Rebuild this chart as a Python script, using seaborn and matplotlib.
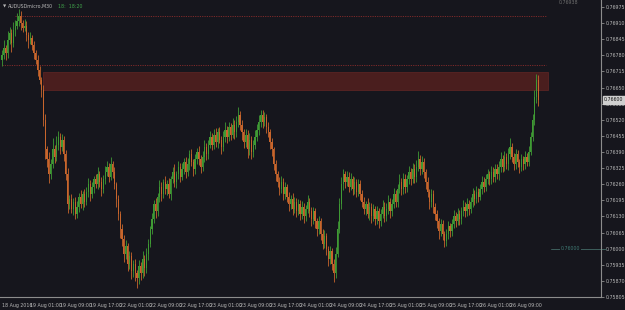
import numpy as np
import pandas as pd
import matplotlib
matplotlib.use("Agg")
import matplotlib.pyplot as plt
import matplotlib.transforms as mtransforms
from matplotlib.patches import Rectangle
import seaborn as sns

# ---------------- data ----------------
close = [
    0.7678, 0.7681, 0.7679, 0.7684, 0.7687, 0.7683, 0.7688, 0.7690,
    0.7692, 0.7694, 0.7691, 0.7689, 0.7690, 0.7686, 0.7684, 0.7685,
    0.7682, 0.7679, 0.7676, 0.7672, 0.7668, 0.7664, 0.7652, 0.7640,
    0.7636, 0.7630, 0.7634, 0.7640, 0.7637, 0.7642, 0.7645, 0.7641,
    0.7644, 0.7638, 0.7630, 0.7618, 0.7620, 0.7616, 0.7619, 0.7614,
    0.7617, 0.7621, 0.7618, 0.7622, 0.7619, 0.7623, 0.7626, 0.7622,
    0.7625, 0.7628, 0.7626, 0.7630, 0.7627, 0.7624, 0.7628, 0.7631,
    0.7633, 0.7629, 0.7634, 0.7631, 0.7626, 0.7620, 0.7614, 0.7608,
    0.7604, 0.7598, 0.7601, 0.7594, 0.7597, 0.7591, 0.7594, 0.7590,
    0.7588, 0.7593, 0.7590, 0.7596, 0.7592, 0.7598, 0.7602, 0.7608,
    0.7612, 0.7618, 0.7615, 0.7621, 0.7625, 0.7622, 0.7627, 0.7624,
    0.7626, 0.7622, 0.7628, 0.7631, 0.7627, 0.7630, 0.7633, 0.7629,
    0.7632, 0.7635, 0.7631, 0.7634, 0.7638, 0.7635, 0.7632, 0.7636,
    0.7639, 0.7636, 0.7633, 0.7637, 0.7641, 0.7638, 0.7642, 0.7645,
    0.7642, 0.7646, 0.7643, 0.7647, 0.7644, 0.7641, 0.7645, 0.7648,
    0.7645, 0.7649, 0.7646, 0.7650, 0.7647, 0.7651, 0.7654, 0.7650,
    0.7647, 0.7643, 0.7646, 0.7640, 0.7644, 0.7639, 0.7642, 0.7645,
    0.7648, 0.7651, 0.7654, 0.7651, 0.7653, 0.7649, 0.7647, 0.7643,
    0.7640, 0.7634, 0.7630, 0.7627, 0.7624, 0.7627, 0.7622, 0.7625,
    0.7621, 0.7618, 0.7620, 0.7616, 0.7619, 0.7615, 0.7618, 0.7614,
    0.7617, 0.7613, 0.7616, 0.7619, 0.7615, 0.7612, 0.7615, 0.7611,
    0.7608, 0.7611, 0.7606, 0.7602, 0.7605, 0.7600, 0.7596, 0.7599,
    0.7594, 0.7590, 0.7598, 0.7608, 0.7618, 0.7626, 0.7630, 0.7627,
    0.7629, 0.7625, 0.7628, 0.7624, 0.7627, 0.7623, 0.7626, 0.7622,
    0.7619, 0.7616, 0.7618, 0.7614, 0.7617, 0.7613, 0.7616, 0.7612,
    0.7615, 0.7611, 0.7614, 0.7617, 0.7613, 0.7616, 0.7619, 0.7615,
    0.7618, 0.7622, 0.7619, 0.7624, 0.7627, 0.7624, 0.7628, 0.7625,
    0.7628, 0.7631, 0.7628, 0.7632, 0.7629, 0.7633, 0.7636, 0.7632,
    0.7635, 0.7631, 0.7627, 0.7623, 0.7619, 0.7622, 0.7617, 0.7614,
    0.7611, 0.7607, 0.7610, 0.7606, 0.7603, 0.7606, 0.7609, 0.7607,
    0.7610, 0.7613, 0.7611, 0.7614, 0.7612, 0.7615, 0.7617, 0.7615,
    0.7618, 0.7616, 0.7619, 0.7622, 0.7620, 0.7623, 0.7621, 0.7624,
    0.7627, 0.7625, 0.7628, 0.7630, 0.7628, 0.7631, 0.7629, 0.7632,
    0.7630, 0.7633, 0.7636, 0.7633, 0.7637, 0.7634, 0.7638, 0.7641,
    0.7637, 0.7634, 0.7638, 0.7635, 0.7633, 0.7636, 0.7634, 0.7637,
    0.7635, 0.7639, 0.7645, 0.7652, 0.7661, 0.7668, 0.7660,
]
first_open = 0.7676

# wick lengths, in units of WICK_UNIT
up_wick = [
    8, 12, 5, 15, 10, 6, 14, 9,
    12, 10, 7, 5, 11, 8, 6, 9,
    5, 7, 4, 9, 6, 5, 8, 10,
    6, 12, 9, 18, 7, 14, 10, 6,
    9, 5, 7, 10, 6, 8, 5, 7,
    9, 6, 11, 5, 8, 7, 10, 6,
    8, 5, 9, 12, 6, 8, 7, 10,
    9, 6, 12, 5, 7, 4, 6, 5,
    8, 6, 10, 5, 9, 7, 6, 8,
    5, 10, 7, 12, 6, 9, 8, 5,
    10, 7, 9, 6, 11, 8, 5, 9,
    7, 10, 6, 8, 12, 5, 9, 7,
    10, 6, 8, 11, 7, 9, 5, 8,
    6, 10, 7, 9, 12, 6, 8, 10,
    7, 9, 11, 6, 8, 5, 10, 12,
    6, 9, 7, 11, 8, 10, 13, 6,
    8, 5, 9, 7, 10, 6, 8, 11,
    9, 12, 8, 7, 9, 6, 8, 5,
    6, 4, 7, 5, 8, 9, 6, 7,
    5, 8, 6, 9, 7, 5, 8, 6,
    9, 5, 7, 10, 6, 8, 7, 5,
    6, 9, 5, 7, 10, 6, 4, 8,
    5, 7, 10, 12, 9, 11, 8, 6,
    9, 7, 10, 6, 8, 5, 9, 7,
    6, 8, 5, 9, 7, 6, 8, 5,
    9, 6, 8, 10, 7, 9, 11, 6,
    8, 10, 7, 9, 12, 6, 10, 8,
    7, 9, 6, 10, 8, 11, 14, 7,
    9, 6, 5, 7, 4, 8, 6, 5,
    7, 5, 8, 6, 4, 7, 9, 6,
    8, 10, 7, 9, 6, 8, 10, 7,
    9, 6, 8, 10, 7, 9, 6, 8,
    10, 7, 9, 8, 6, 10, 7, 9,
    8, 10, 12, 7, 9, 6, 10, 14,
    7, 6, 9, 7, 5, 8, 6, 9,
    7, 9, 8, 10, 12, 10, 8,
]
dn_wick = [
    10, 6, 12, 8, 5, 14, 7, 9,
    6, 8, 11, 7, 5, 9, 12, 6,
    8, 10, 6, 9, 7, 12, 10, 15,
    12, 14, 8, 6, 10, 7, 9, 12,
    7, 10, 9, 14, 8, 6, 10, 8,
    6, 9, 7, 10, 8, 6, 9, 11,
    7, 10, 6, 8, 9, 11, 6, 8,
    7, 9, 6, 10, 8, 12, 10, 14,
    11, 14, 8, 12, 9, 13, 10, 12,
    15, 9, 11, 8, 12, 7, 10, 6,
    8, 6, 10, 7, 9, 11, 6, 8,
    10, 7, 9, 6, 8, 10, 7, 9,
    6, 8, 10, 7, 9, 6, 11, 8,
    7, 9, 10, 6, 8, 9, 7, 6,
    9, 7, 8, 10, 6, 11, 7, 8,
    10, 7, 9, 6, 11, 8, 7, 9,
    12, 10, 8, 14, 9, 11, 8, 7,
    6, 8, 7, 9, 6, 10, 8, 12,
    10, 9, 11, 8, 10, 7, 9, 8,
    9, 11, 8, 10, 7, 9, 6, 10,
    8, 10, 7, 6, 9, 11, 8, 10,
    12, 8, 10, 9, 7, 11, 12, 9,
    10, 14, 8, 6, 7, 8, 9, 10,
    7, 9, 6, 10, 8, 9, 7, 10,
    9, 8, 10, 7, 9, 11, 8, 10,
    9, 10, 8, 6, 9, 7, 8, 10,
    7, 6, 9, 8, 7, 9, 8, 10,
    8, 7, 9, 6, 10, 8, 7, 9,
    8, 10, 11, 9, 12, 8, 10, 9,
    11, 12, 8, 10, 9, 7, 8, 9,
    8, 7, 9, 6, 10, 8, 7, 9,
    7, 9, 6, 8, 10, 7, 9, 6,
    8, 9, 7, 8, 9, 7, 9, 8,
    7, 9, 8, 9, 7, 8, 9, 7,
    8, 9, 7, 9, 10, 7, 9, 8,
    7, 6, 5, 6, 8, 9, 10,
]
WICK_UNIT = 0.000025

xtick_bars = [-1, 14, 30, 46, 62, 78, 94, 110, 126, 142, 158, 174, 190,
              206, 222, 238, 254, 270]
xtick_labels = ["18 Aug 2016", "19 Aug 01:00", "19 Aug 09:00", "19 Aug 17:00",
                "22 Aug 01:00", "22 Aug 09:00", "22 Aug 17:00", "23 Aug 01:00",
                "23 Aug 09:00", "23 Aug 17:00", "24 Aug 01:00", "24 Aug 09:00",
                "24 Aug 17:00", "25 Aug 01:00", "25 Aug 09:00", "25 Aug 17:00",
                "26 Aug 01:00", "26 Aug 09:00"]
ytick_vals = [0.76975, 0.76910, 0.76845, 0.76780, 0.76715, 0.76650, 0.76585,
              0.76520, 0.76455, 0.76390, 0.76325, 0.76260, 0.76195, 0.76130,
              0.76065, 0.76000, 0.75935, 0.75870, 0.75805]

zone_top, zone_bottom = 0.76714, 0.76641
zone_start_bar, zone_end_bar = 22, 291
level_high, level_high_start = 0.76938, 7
level_mid, level_mid_start = 0.76742, 0
level_end = 290
support_level, support_start = 0.76000, 293
bid_price = 0.76600
symbol_title = "AUDUSDmicro,M30"
timer_text = "18:  18:20"

# ---------------- styling ----------------
BG = "#16161d"
GREEN = "#3f9a34"
ORANGE = "#c8652c"
TXT = "#b8b8b8"
AXC = "#8c8c8c"
FS = 3.4

sns.set_theme(style="dark", rc={
    "axes.facecolor": BG, "figure.facecolor": BG,
    "axes.edgecolor": AXC, "grid.color": BG,
    "xtick.color": AXC, "ytick.color": AXC,
    "text.color": TXT, "patch.force_edgecolor": False,
})
plt.rcParams["font.family"] = ["DejaVu Sans"]

df = pd.DataFrame({"close": close})
df["bar"] = np.arange(len(df))
df["open"] = [first_open] + close[:-1]
df["high"] = df[["open", "close"]].max(axis=1) + np.array(up_wick) * WICK_UNIT
df["low"] = df[["open", "close"]].min(axis=1) - np.array(dn_wick) * WICK_UNIT
df["dir"] = np.where(df["close"] >= df["open"], "up", "down")

fig = plt.figure(figsize=(6.25, 3.10), dpi=100)
ax = fig.add_axes([0, 13 / 310, 601 / 625, 297 / 310])
ax.set_facecolor(BG)

# zone rectangle
ax.add_patch(Rectangle((zone_start_bar, zone_bottom), zone_end_bar - zone_start_bar,
                       zone_top - zone_bottom, facecolor="#4a1e1e",
                       edgecolor="#5a2424", lw=0.6, zorder=1))
# dotted levels
ax.hlines(level_high, level_high_start, level_end, colors="#7e2a2a",
          linestyles=(0, (1.2, 1.2)), lw=0.7, zorder=1)
ax.hlines(level_mid, level_mid_start, level_end, colors="#7e2a2a",
          linestyles=(0, (1.2, 1.2)), lw=0.7, zorder=1)

# candles
palette = {"up": GREEN, "down": ORANGE}
for d, sub in df.groupby("dir"):
    ax.vlines(sub["bar"], sub["low"], sub["high"], colors=palette[d], lw=0.6, zorder=3)
    body_lo = sub[["open", "close"]].min(axis=1)
    body_h = (sub["close"] - sub["open"]).abs().clip(lower=0.00002)
    ax.bar(sub["bar"], body_h, bottom=body_lo, width=0.65, color=palette[d],
           edgecolor="none", linewidth=0, zorder=3)

ax.set_xlim(-1.07, 319.5)
ax.set_ylim(0.75809, 0.77003)

# axes frame
for s in ["top", "left"]:
    ax.spines[s].set_visible(False)
for s in ["right", "bottom"]:
    ax.spines[s].set_color(AXC)
    ax.spines[s].set_linewidth(0.8)

ax.yaxis.tick_right()
ax.set_yticks(ytick_vals)
ax.set_yticklabels([f"{v:.5f}" for v in ytick_vals], fontsize=FS, color=TXT)
ax.tick_params(axis="y", length=2.5, width=0.6, pad=1.2, colors=AXC, labelcolor=TXT)

ax.set_xticks(xtick_bars)
ax.set_xticklabels(xtick_labels, fontsize=FS, color=TXT, ha="left")
ax.tick_params(axis="x", length=3, width=0.6, pad=1.5, colors=AXC, labelcolor=TXT)
for lbl in ax.get_xticklabels():
    lbl.set_transform(lbl.get_transform() + mtransforms.ScaledTranslation(1.5 / 100, 0, fig.dpi_scale_trans))
ax.grid(False)

# support line with label
ax.plot([support_start, 322], [support_level, support_level], color="#3e5f5c",
        lw=0.7, clip_on=False, zorder=2)
ax.text(298, support_level, f"{support_level:.5f}", fontsize=FS, color="#3f7a74",
        va="center", ha="left", zorder=4,
        bbox=dict(boxstyle="square,pad=0.15", fc=BG, ec="none"))

# top level label
ax.text(297, 0.76993, f"{level_high:.5f}", fontsize=FS, color="#6e6e6e",
        va="center", ha="left", zorder=4)

# bid label on price axis
ax.annotate(f"{bid_price:.5f}", xy=(1.0, bid_price), xycoords=("axes fraction", "data"),
            xytext=(2.2, 0), textcoords="offset points", fontsize=FS, color="#111111",
            va="center", ha="left", annotation_clip=False, zorder=6,
            bbox=dict(boxstyle="square,pad=0.3", fc="#cfcfcf", ec="#cfcfcf"))

# title
fig.text(3 / 625, 1 - 6 / 310, "\u25BC", fontsize=3.0, color=TXT, va="center", ha="left")
fig.text(8 / 625, 1 - 6 / 310, symbol_title, fontsize=FS, color=TXT, va="center", ha="left")
fig.text(58 / 625, 1 - 6 / 310, timer_text, fontsize=FS, color="#3fa34a", va="center", ha="left")

fig.savefig("out.png", dpi=100, facecolor=BG)
